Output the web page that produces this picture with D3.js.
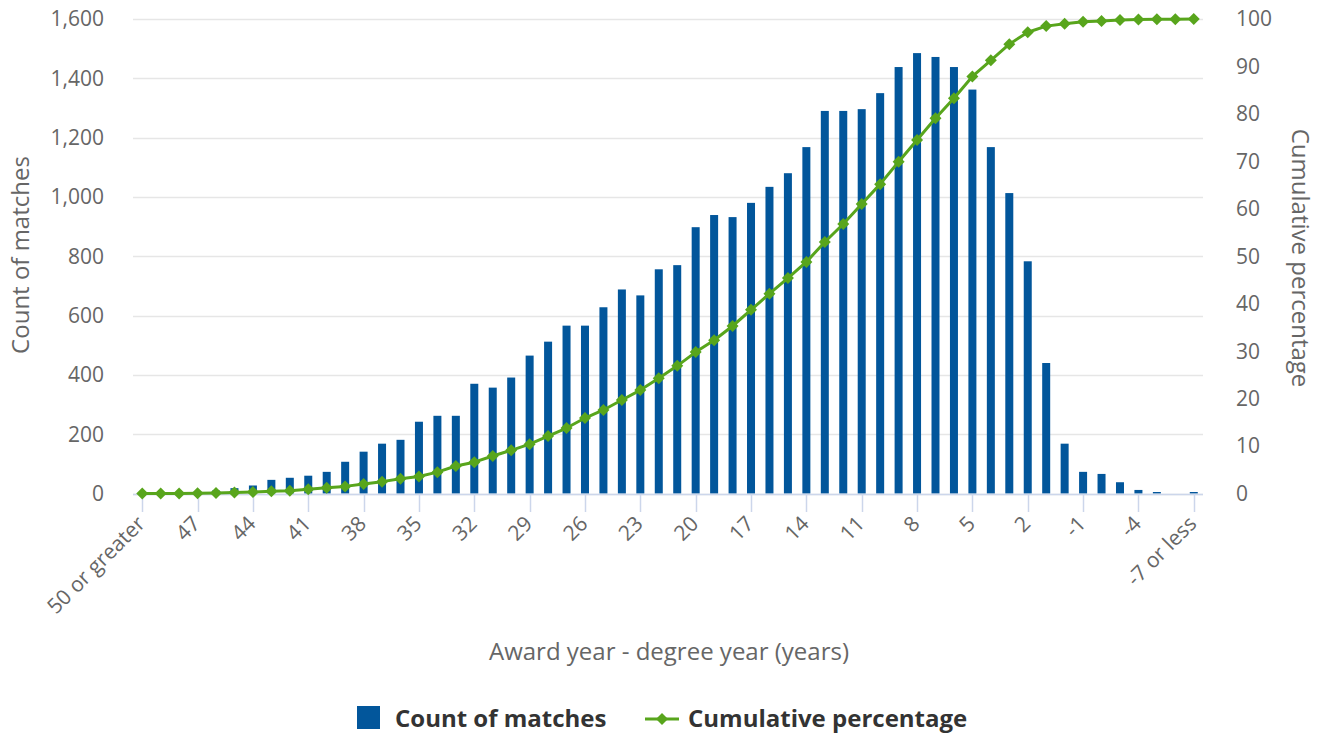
<!DOCTYPE html>
<html>
<head>
<meta charset="utf-8">
<script src="https://cdn.jsdelivr.net/npm/d3@7/dist/d3.min.js"></script>
<style>
  html, body { margin: 0; padding: 0; background: #fff; }
  svg { display: block; font-family: "Open Sans", "Noto Sans", sans-serif; }
</style>
</head>
<body>
<svg id="chart" width="1318" height="736"></svg>
<script>
// ---- data ----
const categories = ["50 or greater","49","48","47","46","45","44","43","42","41","40","39","38","37","36","35","34","33","32","31","30","29","28","27","26","25","24","23","22","21","20","19","18","17","16","15","14","13","12","11","10","9","8","7","6","5","4","3","2","1","0","-1","-2","-3","-4","-5","-6","-7 or less"];
const countOfMatches = [1,1,2,3,10,18,27,46,53,60,73,107,141,168,181,242,262,262,370,357,391,465,512,566,566,628,688,668,756,770,898,939,932,980,1034,1080,1168,1290,1290,1296,1350,1438,1485,1472,1438,1362,1168,1013,783,440,168,73,66,38,12,5,0,5];
const cumulativePercentage = [0,0,0,0.05,0.1,0.2,0.3,0.45,0.6,0.9,1.2,1.5,2.0,2.5,3.1,3.6,4.5,5.8,6.6,7.9,9.1,10.4,12.1,13.8,15.9,17.6,19.7,21.8,24.3,26.9,29.8,32.3,35.3,38.7,42.1,45.4,48.8,53.0,56.8,61.0,65.2,69.9,74.5,79.1,83.3,87.9,91.3,94.7,97.2,98.5,99.0,99.4,99.6,99.8,99.9,99.95,99.95,100];
const leftTicks = [0,200,400,600,800,1000,1200,1400,1600];
const rightTicks = [0,10,20,30,40,50,60,70,80,90,100];
const seriesNames = ["Count of matches","Cumulative percentage"];
const axisTitles = {x: "Award year - degree year (years)", yLeft: "Count of matches", yRight: "Cumulative percentage"};

// ---- layout ----
const plot = {left: 133, right: 1203, top: 19, bottom: 493.5};
const barColor = "#02569b", lineColor = "#58a51c";
const svg = d3.select("#chart");

const x = d3.scaleBand().domain(categories).range([plot.left, plot.right]).padding(0);
const cx = d => x(d) + x.bandwidth() / 2;
const yL = d3.scaleLinear().domain([0, 1600]).range([plot.bottom, plot.top]);
const yR = d3.scaleLinear().domain([0, 100]).range([plot.bottom, plot.top]);

// gridlines
svg.append("g").selectAll("line").data(leftTicks).join("line")
  .attr("x1", plot.left).attr("x2", plot.right)
  .attr("y1", d => Math.round(yL(d)) + 0.5).attr("y2", d => Math.round(yL(d)) + 0.5)
  .attr("stroke", "#e6e6e6").attr("stroke-width", 1.5);

// left axis labels
const fmt = d3.format(",");
svg.append("g").selectAll("text").data(leftTicks).join("text")
  .attr("x", 104).attr("y", d => yL(d)).attr("dy", "0.35em")
  .attr("text-anchor", "end").attr("fill", "#666").attr("font-size", 21)
  .text(d => fmt(d));

// right axis labels
svg.append("g").selectAll("text").data(rightTicks).join("text")
  .attr("x", 1236).attr("y", d => yR(d)).attr("dy", "0.35em")
  .attr("text-anchor", "start").attr("fill", "#666").attr("font-size", 21)
  .text(d => d);

// bars
svg.append("g").selectAll("rect").data(categories).join("rect")
  .attr("x", d => cx(d) - 4).attr("width", 8)
  .attr("y", (d, i) => yL(countOfMatches[i]))
  .attr("height", (d, i) => plot.bottom - yL(countOfMatches[i]))
  .attr("fill", barColor);

// x axis line and ticks
svg.append("line").attr("x1", plot.left).attr("x2", plot.right)
  .attr("y1", 494.5).attr("y2", 494.5).attr("stroke", "#ccd6eb").attr("stroke-width", 1.5);
const labelled = categories.filter((d, i) => i % 3 === 0);
svg.append("g").selectAll("line").data(labelled).join("line")
  .attr("x1", d => Math.round(cx(d)) + 0.5).attr("x2", d => Math.round(cx(d)) + 0.5)
  .attr("y1", 494.5).attr("y2", 512).attr("stroke", "#ccd6eb").attr("stroke-width", 1.5);
svg.append("g").selectAll("text").data(labelled).join("text")
  .attr("transform", d => `translate(${cx(d) + 4},${525}) rotate(-45)`)
  .attr("text-anchor", "end").attr("fill", "#666").attr("font-size", 21)
  .text(d => d);

// cumulative line
const line = d3.line().x((d, i) => cx(categories[i])).y(d => yR(d));
svg.append("path").datum(cumulativePercentage).attr("d", line)
  .attr("fill", "none").attr("stroke", lineColor).attr("stroke-width", 3)
  .attr("stroke-linejoin", "round");
const diamond = "M0,-6L6,0L0,6L-6,0Z";
svg.append("g").selectAll("path").data(cumulativePercentage).join("path")
  .attr("transform", (d, i) => `translate(${cx(categories[i])},${yR(d)})`)
  .attr("d", diamond).attr("fill", lineColor);

// axis titles
svg.append("text").attr("x", 669).attr("y", 660).attr("text-anchor", "middle")
  .attr("fill", "#666").attr("font-size", 24).text(axisTitles.x);
svg.append("text").attr("transform", "translate(29,255) rotate(-90)").attr("text-anchor", "middle")
  .attr("fill", "#666").attr("font-size", 24).text(axisTitles.yLeft);
svg.append("text").attr("transform", "translate(1292,258) rotate(90)").attr("text-anchor", "middle")
  .attr("fill", "#666").attr("font-size", 24).text(axisTitles.yRight);

// legend
const lg = svg.append("g");
lg.append("rect").attr("x", 357).attr("y", 706).attr("width", 23).attr("height", 23).attr("fill", barColor);
lg.append("text").attr("x", 395).attr("y", 727).attr("fill", "#333").attr("font-size", 24)
  .attr("font-weight", "bold").text(seriesNames[0]);
lg.append("line").attr("x1", 645).attr("x2", 679).attr("y1", 719).attr("y2", 719)
  .attr("stroke", lineColor).attr("stroke-width", 3);
lg.append("path").attr("transform", "translate(662,719)").attr("d", diamond).attr("fill", lineColor);
lg.append("text").attr("x", 688).attr("y", 727).attr("fill", "#333").attr("font-size", 24)
  .attr("font-weight", "bold").text(seriesNames[1]);
</script>
</body>
</html>
